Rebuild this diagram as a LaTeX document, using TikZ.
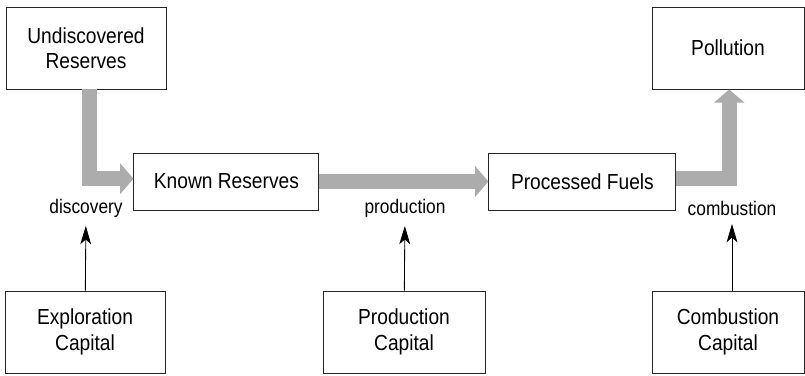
\documentclass[tikz,border=0pt]{standalone}
\usepackage{fontspec}
\setmainfont{Liberation Sans}[FakeStretch=0.88]
\usetikzlibrary{arrows,arrows.meta,positioning}

\begin{document}
\begin{tikzpicture}[
    box/.style={rectangle, draw=black!85, line width=0.7pt, fill=white, minimum width=4.0cm, minimum height=2.05cm, align=center, font=\fontsize{15.5}{18}\selectfont},
    flowbox/.style={box, minimum height=1.425cm},
    flowlabel/.style={font=\fontsize{14}{16}\selectfont, inner sep=2pt},
    flow/.style={draw=gray!65, line width=0.375cm, -{Triangle[width=0.75cm,length=0.33cm]}},
    arrow/.style={-{Stealth[length=0.46cm,width=0.27cm,inset=0.12cm]}, line width=0.6pt, shorten >=4pt}
]
\useasboundingbox (0,0) rectangle (20.125,9.375);

% stocks
\node[box] (undisc) at (2.15,8.175) {Undiscovered\\Reserves};
\node[flowbox, minimum width=4.625cm] (known) at (5.66,4.8375) {Known Reserves};
\node[flowbox, minimum width=4.675cm] (fuels) at (14.56,4.8375) {Processed Fuels};
\node[box, minimum width=3.8cm] (pollut) at (18.2,8.175) {Pollution};

% flows
\node[flowlabel] (disc) at (2.15,4.175) {discovery};
\node[flowlabel] (prod) at (10.125,4.175) {production};
\node[flowlabel] (comb) at (18.3,4.175) {combustion};

\draw[flow] ([xshift=0.09cm]undisc.south) |- ([yshift=0.07cm]known.west);
\draw[flow] (known.east) -- (fuels.west);
\draw[flow] ([yshift=0.07cm]fuels.east) -| ([xshift=0.03cm]pollut.south);

% capital
\node[box] (explcap) at (2.125,1.075) {Exploration\\Capital};
\node[box, minimum width=4.05cm] (prodcap) at (10.1,1.075) {Production\\Capital};
\node[box, minimum width=3.8cm] (combcap) at (18.2,1.075) {Combustion\\Capital};

\draw[arrow] (explcap) -- (disc);
\draw[arrow] (prodcap) -- (prod);
\draw[arrow] ([xshift=0.1cm]combcap.north) -- ([xshift=0.1cm]combcap.north |- comb.south);

\end{tikzpicture}
\end{document}
